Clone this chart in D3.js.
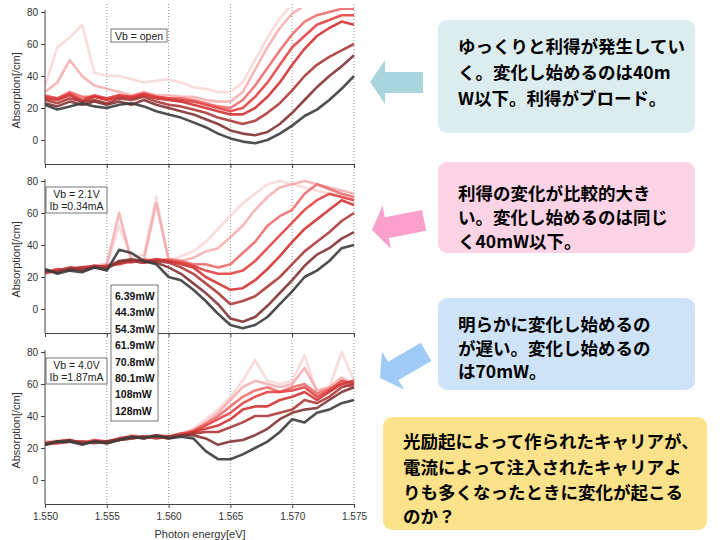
<!DOCTYPE html>
<meta charset="utf-8">
<script src="https://d3js.org/d3.v7.min.js"></script>
<style>
  body { margin: 0; background: #fff; }
</style>
<div id="my_dataviz"></div>
<script>

// photon energy grid [eV]
const energy = [1.550, 1.551, 1.552, 1.553, 1.554, 1.555, 1.556, 1.557, 1.558, 1.559,
                1.560, 1.561, 1.562, 1.563, 1.564, 1.565, 1.566, 1.567, 1.568, 1.569,
                1.570, 1.571, 1.572, 1.573, 1.574, 1.575];

// pump powers, drawn lightest (6.39) to darkest (128)
const powers = ["6.39mW", "44.3mW", "54.3mW", "61.9mW", "70.8mW", "80.1mW", "108mW", "128mW"];
const colors = ["#f6c4c4", "#f29a9a", "#ec6e6e", "#e44444", "#d23434", "#ad3a3a", "#823434", "#3c3c3c"];

// Vb = open
const openVals = [
  [34,58,64,72,42,40,40,38,36,37,38,36,33,32,30,30,36,50,64,76,85,85,85,85,85,85],
  [30,36,50,40,34,32,30,28,30,28,28,27,27,25,24,24,30,44,58,70,79,84,84,84,84,84],
  [28,26,30,27,27,26,28,27,29,27,26,26,25,23,21,20,25,34,45,56,66,74,78,80,82,82],
  [27,26,29,25,28,26,28,27,29,27,26,25,24,22,20,18,20,27,36,47,58,65,72,75,78,78],
  [26,25,28,24,27,25,27,26,28,26,25,24,22,20,18,16,16,20,27,36,47,57,65,70,74,72],
  [25,23,26,24,25,23,26,25,27,24,22,21,19,17,14,12,10,12,17,23,31,40,47,52,56,60],
  [23,21,24,22,24,22,24,22,25,22,20,18,16,13,10,6,4,3,5,10,17,25,33,40,46,53],
  [22,19,21,23,21,20,22,23,21,18,16,14,11,8,4,1,-1,-2,0,4,9,15,19,25,32,40]
];

// Vb = 2.1V, Ib = 0.34mA
const v21Vals = [
  [23,24,25,26,27,28,52,32,34,70,30,33,36,42,50,58,66,72,78,80,78,76,74,72,70,68],
  [24,23,26,25,27,28,60,30,31,66,31,30,32,36,38,45,52,62,70,76,78,80,78,76,74,72],
  [22,24,25,26,26,27,30,29,31,30,31,30,28,28,26,28,35,42,52,58,62,72,78,75,72,70],
  [23,25,24,26,27,26,29,30,30,31,30,29,27,24,22,22,24,30,38,46,54,62,68,72,70,68],
  [24,23,25,26,26,27,28,30,29,31,30,28,26,20,16,12,13,18,25,33,42,50,56,62,68,65],
  [23,24,26,25,27,26,29,30,29,30,29,26,22,16,10,3,5,8,14,20,28,36,42,48,55,60],
  [24,23,25,24,26,25,30,31,30,29,26,22,16,10,3,-6,-8,-5,2,10,18,27,34,38,44,48],
  [25,22,24,23,26,24,37,35,30,28,20,18,12,5,-3,-10,-12,-10,-5,3,11,20,24,30,38,40]
];

// Vb = 4.0V, Ib = 1.87mA
const v40Vals = [
  [23,25,25,24,25,24,26,28,27,28,28,29,32,38,44,52,62,75,62,60,62,78,55,58,80,62],
  [24,24,25,23,24,24,26,28,27,28,27,29,31,36,42,50,58,62,60,58,60,70,56,58,64,60],
  [22,23,24,24,24,23,26,27,27,27,27,28,31,35,40,46,52,56,58,55,58,60,54,57,60,58],
  [23,24,25,23,25,24,25,27,26,28,27,29,30,34,38,42,48,52,55,55,56,58,52,56,62,60],
  [22,24,24,23,24,23,25,26,27,27,26,28,30,32,34,38,44,46,46,50,52,55,50,55,60,62],
  [23,23,24,24,23,24,26,27,27,26,27,28,29,30,30,33,36,40,40,42,44,50,48,52,58,60],
  [23,24,25,23,24,24,25,26,27,27,27,28,28,26,22,24,25,28,32,38,42,44,45,50,55,58],
  [22,24,24,22,24,23,25,27,26,28,26,27,26,18,13,13,16,20,24,30,38,36,42,44,48,50]
];

const xTicks = [1.550, 1.555, 1.560, 1.565, 1.570, 1.575];
const yTicks = [0, 20, 40, 60, 80];

const panels = [
  {vals: openVals, label: ["Vb = open"]},
  {vals: v21Vals, label: ["Vb = 2.1V", "Ib =0.34mA"]},
  {vals: v40Vals, label: ["Vb = 4.0V", "Ib =1.87mA"]}
];

// notes on the right
const notes = [
  ["ゆっくりと利得が発生してい", "く。変化し始めるのは40m", "W以下。利得がブロード。"],
  ["利得の変化が比較的大き", "い。変化し始めるのは同じ", "く40mW以下。"],
  ["明らかに変化し始めるの", "が遅い。変化し始めるの", "は70mW。"],
  ["光励起によって作られたキャリアが、", "電流によって注入されたキャリアよ", "りも多くなったときに変化が起こる", "のか？"]
];

const svg = d3.select("#my_dataviz")
  .append("svg")
    .attr("width", 720)
    .attr("height", 540)
    .style("font-family", "'Liberation Sans', Arial, sans-serif");

const x = d3.scaleLinear().domain([1.550, 1.575]).range([45, 354]);
const panelTop = [12, 181, 352];
const panelH = 152;

// dotted vertical grid through all three panels
svg.append("g")
  .selectAll("line")
  .data(xTicks.slice(1))
  .join("line")
    .attr("x1", d => x(d)).attr("x2", d => x(d))
    .attr("y1", 4).attr("y2", panelTop[2] + panelH)
    .attr("stroke", "#777")
    .attr("stroke-width", 0.8)
    .attr("stroke-dasharray", "1,2");

panels.forEach((p, i) => {
  const top = panelTop[i];
  const y = d3.scaleLinear().domain([-15, 80]).range([top + panelH, top]);
  const g = svg.append("g");

  g.append("clipPath").attr("id", "clip" + i)
    .append("rect")
      .attr("x", 45).attr("y", top - 4)
      .attr("width", 312).attr("height", panelH + 4);

  const line = d3.line()
    .x((d, j) => x(energy[j]))
    .y(d => y(d));

  g.append("g")
    .attr("clip-path", `url(#clip${i})`)
    .selectAll("path")
    .data(p.vals)
    .join("path")
      .attr("d", line)
      .attr("fill", "none")
      .attr("stroke", (d, k) => colors[k])
      .attr("stroke-width", 2.6)
      .attr("stroke-linejoin", "round")
      .attr("opacity", (d, k) => k === 0 ? 0.6 : k === 1 ? 0.7 : 0.9);

  // left axis
  const ya = g.append("g")
    .attr("transform", "translate(45,0)")
    .call(d3.axisLeft(y).tickValues(yTicks).tickSize(4).tickSizeOuter(0));
  ya.select(".domain").attr("stroke", "#444").attr("d", `M0,${top - 2}V${top + panelH}`);
  ya.selectAll("line").attr("stroke", "#444");
  ya.selectAll("text").attr("font-size", 10).attr("fill", "#333").attr("font-family", "'Liberation Sans', Arial");

  // bottom axis
  const xa = g.append("g")
    .attr("transform", `translate(0,${top + panelH})`)
    .call(d3.axisBottom(x).tickValues(xTicks).tickSize(4).tickSizeOuter(0).tickFormat(d3.format(".3f")));
  xa.select(".domain").attr("stroke", "#444");
  xa.selectAll("line").attr("stroke", "#444");
  xa.selectAll("text").attr("font-size", 10).attr("fill", "#333").attr("dy", "0.9em")
    .attr("font-family", "'Liberation Sans', Arial");
  if (i < 2) xa.selectAll("text").remove();

  // y title
  g.append("text")
    .attr("transform", `translate(20,${y(31)}) rotate(-90)`)
    .attr("text-anchor", "middle")
    .attr("font-size", 11)
    .attr("fill", "#333")
    .text("Absorption[/cm]");

  // condition box
  const bx = i === 0 ? 111 : 46, by = i === 0 ? 29 : top + 6;
  const bw = i === 0 ? 56 : 61, bh = i === 0 ? 13 : 26;
  g.append("rect")
    .attr("x", bx).attr("y", by).attr("width", bw).attr("height", bh)
    .attr("fill", "#fff").attr("stroke", "#555").attr("stroke-width", 0.8);
  g.selectAll(".cond")
    .data(p.label)
    .join("text")
      .attr("x", bx + bw / 2)
      .attr("y", (d, k) => by + 7 + k * 12)
      .attr("dominant-baseline", "central")
      .attr("text-anchor", "middle")
      .attr("font-size", 10.5)
      .attr("fill", "#222")
      .text(d => d);
});

svg.append("text")
  .attr("x", 200).attr("y", 538)
  .attr("text-anchor", "middle")
  .attr("font-size", 11)
  .attr("fill", "#333")
  .text("Photon energy[eV]");

// legend
const legend = svg.append("g");
legend.append("rect")
  .attr("x", 111).attr("y", 285).attr("width", 47).attr("height", 136)
  .attr("fill", "#fff").attr("stroke", "#555").attr("stroke-width", 0.8);
legend.selectAll("text")
  .data(powers)
  .join("text")
    .attr("x", 115)
    .attr("y", (d, i) => 296 + i * 16.4)
    .attr("dominant-baseline", "central")
    .attr("font-size", 10.5)
    .attr("font-weight", "bold")
    .attr("fill", "#111")
    .text(d => d);

// note boxes
const boxes = [
  {x: 438, y: 20, w: 257, h: 113, fill: "#dcedf0", tx: 458, ty: [45, 71, 97]},
  {x: 438, y: 162, w: 257, h: 91, fill: "#fdd3e6", tx: 458, ty: [192, 216, 240]},
  {x: 438, y: 298, w: 257, h: 92, fill: "#cee3f7", tx: 458, ty: [323, 347, 370]},
  {x: 383, y: 417, w: 324, h: 113, fill: "#fde28c", tx: 403, ty: [440, 466, 491, 515]}
];
boxes.forEach((b, i) => {
  svg.append("rect")
    .attr("x", b.x).attr("y", b.y).attr("width", b.w).attr("height", b.h)
    .attr("rx", 9).attr("fill", b.fill);
  svg.append("g").selectAll("text")
    .data(notes[i])
    .join("text")
      .attr("x", b.tx)
      .attr("y", (d, k) => b.ty[k])
      .attr("dominant-baseline", "central")
      .attr("font-family", "'Noto Sans CJK JP', sans-serif")
      .attr("font-weight", "bold")
      .attr("font-size", 17.5)
      .attr("fill", "#000")
      .text(d => d);
});

// arrows pointing back at the panels
const arrowShape = "M0,0 L15,-22 L15,-10 L53,-10 L53,11 L15,11 L15,22 Z";
const arrows = [
  {x: 370, y: 82, r: 0, fill: "#a9d6dc"},
  {x: 372, y: 230, r: -11, fill: "#f9a0cc"},
  {x: 380, y: 378, r: -30, fill: "#9fcbf6"}
];
svg.selectAll(".arrow")
  .data(arrows)
  .join("path")
    .attr("d", arrowShape)
    .attr("transform", d => `translate(${d.x},${d.y}) rotate(${d.r})`)
    .attr("fill", d => d.fill);

</script>
